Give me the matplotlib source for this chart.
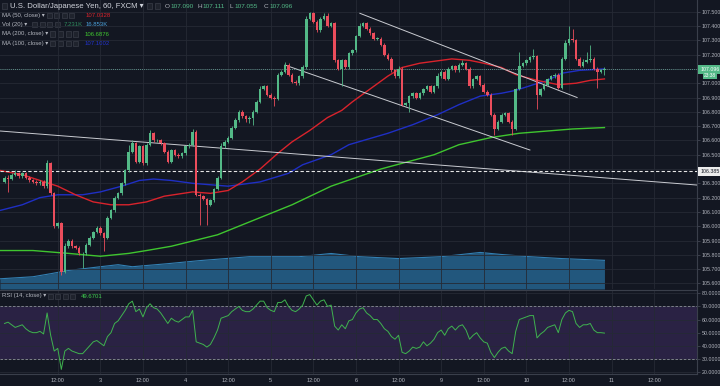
import matplotlib
matplotlib.use("Agg")
import matplotlib.pyplot as plt
from matplotlib.patches import Rectangle
import numpy as np

plt.rcParams['font.family'] = ['Liberation Sans', 'DejaVu Sans']

# hourly USDJPY candles, bar 0 = day 2, 20:00
first_open = 106.31
closes = [
    106.34, 106.33, 106.36, 106.37, 106.35, 106.37, 106.34, 106.32, 106.31, 106.30,
    106.31, 106.28, 106.44, 106.23, 106.00, 106.02, 105.68, 105.86, 105.90, 105.86,
    105.85, 105.81, 105.81, 105.87, 105.92, 105.96, 105.99, 105.95, 105.92, 106.06,
    106.11, 106.20, 106.23, 106.30, 106.39, 106.52, 106.58, 106.45, 106.56, 106.44,
    106.57, 106.65, 106.60, 106.60, 106.58, 106.52, 106.45, 106.53, 106.50, 106.49,
    106.51, 106.56, 106.57, 106.66, 106.22, 106.21, 106.19, 106.15, 106.18, 106.26,
    106.34, 106.56, 106.59, 106.62, 106.69, 106.74, 106.80, 106.77, 106.75, 106.76,
    106.80, 106.87, 106.96, 106.98, 106.92, 106.90, 106.89, 107.06, 107.08, 107.13,
    107.06, 107.01, 107.00, 107.05, 107.11, 107.45, 107.49, 107.43, 107.37, 107.45,
    107.47, 107.40, 107.42, 107.16, 107.10, 107.16, 107.11, 107.21, 107.23, 107.33,
    107.40, 107.42, 107.38, 107.35, 107.31, 107.31, 107.27, 107.20, 107.17, 107.09,
    107.05, 107.10, 106.85, 106.86, 106.91, 106.93, 106.90, 106.93, 106.96, 106.98,
    106.94, 106.98, 107.05, 107.08, 107.03, 107.10, 107.12, 107.09, 107.13, 107.14,
    107.10, 106.98, 107.03, 107.05, 106.99, 106.94, 106.92, 106.78, 106.68, 106.73,
    106.78, 106.79, 106.73, 106.68, 106.96, 107.12, 107.14, 107.16, 107.18, 107.19,
    106.92, 106.96, 106.99, 107.03, 107.05, 107.06, 106.97, 107.17, 107.28, 107.31,
    107.30, 107.17, 107.12, 107.15, 107.16, 107.17, 107.10, 107.08, 107.09, 107.096,
]
# wick lengths beyond the body, in 0.01 yen
upper_wick = [
    1, 2, 1, 2, 1, 1, 1, 1, 1, 1,
    1, 1, 2, 1, 1, 1, 1, 2, 1, 1,
    1, 1, 1, 1, 1, 1, 1, 1, 1, 1,
    1, 1, 1, 1, 1, 5, 2, 1, 1, 1,
    1, 2, 1, 1, 1, 1, 1, 1, 1, 1,
    1, 1, 1, 2, 1, 1, 1, 1, 1, 1,
    1, 2, 1, 1, 1, 2, 1, 1, 1, 1,
    1, 1, 2, 1, 1, 1, 1, 1, 1, 2,
    1, 1, 1, 1, 2, 2, 1, 1, 1, 1,
    2, 2, 1, 1, 1, 1, 1, 1, 1, 1,
    2, 1, 1, 1, 1, 1, 1, 1, 1, 1,
    1, 2, 1, 1, 1, 1, 1, 1, 1, 1,
    1, 1, 2, 1, 1, 1, 1, 1, 1, 2,
    1, 1, 1, 1, 1, 1, 1, 1, 1, 1,
    1, 1, 1, 1, 1, 10, 1, 1, 1, 5,
    1, 1, 1, 1, 1, 1, 1, 1, 2, 9,
    7, 1, 1, 2, 6, 10, 1, 1, 1, 1.5,
]
lower_wick = [
    1, 9, 1, 1, 1, 1, 1, 1, 1, 1,
    1, 1, 1, 1, 1, 1, 2, 1, 1, 1,
    1, 1, 10, 1, 1, 1, 1, 1, 9, 1,
    1, 1, 1, 1, 1, 1, 1, 1, 1, 1,
    1, 1, 1, 1, 1, 1, 1, 1, 1, 1,
    1, 1, 1, 1, 1, 20, 1, 14, 1, 1,
    1, 1, 1, 1, 1, 1, 1, 1, 2, 3,
    5, 1, 1, 1, 1, 1, 5, 1, 1, 1,
    1, 1, 1, 1, 1, 1, 1, 1, 1, 1,
    1, 1, 1, 1, 1, 12, 1, 1, 1, 1,
    1, 1, 1, 1, 1, 1, 1, 1, 1, 1,
    1, 1, 1, 1, 6, 1, 1, 1, 1, 1,
    1, 1, 1, 1, 1, 1, 1, 1, 1, 1,
    1, 1, 1, 1, 1, 1, 1, 1, 4, 1,
    1, 1, 1, 4, 1, 1, 1, 1, 1, 1,
    10, 1, 1, 1, 1, 1, 1, 1, 1, 1,
    1, 1, 1, 1, 1, 1, 1, 11, 1, 3.5,
]
rsi = [
    57, 58, 56, 54, 55, 56, 53, 51, 50, 50,
    51, 49, 65, 48, 36, 38, 22, 36, 38, 36,
    35, 34, 34, 37, 40, 43, 44, 42, 40, 47,
    50, 57, 59, 63, 67, 72, 74, 66, 68, 62,
    69, 72, 69, 68, 65, 61, 57, 61, 59, 58,
    60, 62, 62, 67, 43, 42, 41, 39, 41, 46,
    52, 61, 62, 63, 66, 68, 70, 67, 66, 66,
    68, 71, 74, 74, 69, 67, 66, 73, 73, 75,
    70, 67, 66, 68, 71, 78, 79, 75, 71, 74,
    75, 70, 71, 55, 52, 56, 53, 59, 60, 65,
    68, 69, 65, 63, 60, 60, 57, 53, 51, 47,
    45, 48, 35, 34, 36, 39, 38, 39, 43, 40,
    42, 45, 50, 52, 48, 53, 55, 52, 55, 56,
    52, 45, 48, 50, 46, 43, 42, 35, 31, 35,
    38, 39, 36, 34, 51, 60, 61, 62, 63, 63,
    46, 49, 51, 54, 55, 56, 50, 60, 65, 67,
    66, 57, 54, 56, 56, 57, 52, 50, 50, 49.67,
]

# moving averages (bar index, value)
ma50_at = [-1.3, 5, 10, 15, 20, 25, 30, 35, 40, 45, 53, 58, 63, 67, 72, 77, 81, 86, 91, 95,
           98, 103, 108, 112, 117, 126, 131, 135, 140, 144, 150, 156, 161, 165, 169]
ma50 = [106.39, 106.36, 106.32, 106.28, 106.22, 106.17, 106.15, 106.15, 106.17, 106.21,
        106.24, 106.23, 106.25, 106.31, 106.40, 106.51, 106.59, 106.67, 106.76, 106.81,
        106.87, 106.96, 107.05, 107.11, 107.14, 107.17, 107.16, 107.14, 107.11, 107.06,
        107.02, 106.99, 107.00, 107.02, 107.03]
ma100_at = [-1.3, 5, 10, 15, 22, 27, 33, 38, 42, 47, 53, 58, 63, 72, 80, 84, 92, 97, 108,
            115, 122, 128, 134, 140, 144, 149, 153, 157, 162, 169]
ma100 = [106.11, 106.15, 106.20, 106.22, 106.22, 106.24, 106.28, 106.32, 106.33, 106.32,
         106.30, 106.29, 106.28, 106.31, 106.37, 106.43, 106.50, 106.57, 106.65, 106.71,
         106.78, 106.85, 106.91, 106.93, 106.95, 106.99, 107.02, 107.07, 107.09, 107.10]
ma200_at = [-1.3, 8, 18, 27, 35, 40, 47, 60, 72, 81, 92, 106, 121, 128, 137, 145, 160, 169]
ma200 = [105.83, 105.83, 105.81, 105.79, 105.81, 105.83, 105.86, 105.94, 106.06, 106.15,
         106.28, 106.40, 106.50, 106.57, 106.62, 106.65, 106.68, 106.69]
# volume MA(20), thousands
vol_at = [-1.3, 8, 13, 18, 27, 32, 36, 46, 55, 69, 83, 92, 100, 111, 123, 134, 140, 148, 157, 169]
vol_ma = [6.0, 7.2, 9.0, 10.9, 13.1, 14.3, 13.1, 14.9, 16.7, 19.0, 19.0, 20.9, 19.0, 17.9,
          19.0, 21.5, 20.3, 19.0, 17.9, 16.85]

# drawn trend lines: (bar, price) pairs
trend_lines = [[(-1.3, 106.666), (195.1, 106.288)],
               [(79.0, 107.127), (148.0, 106.533)],
               [(100.1, 107.489), (161.3, 106.900)]]
support_level = 106.385
last_price = 107.096

tick_at = [15, 27, 39, 51, 63, 75, 87, 99, 111, 123, 135, 147, 159, 171, 183]
tick_lbl = ['12:00', '3', '12:00', '4', '12:00', '5', '12:00', '6', '12:00', '9',
            '12:00', '10', '12:00', '11', '12:00']
price_ticks = [105.6, 105.7, 105.8, 105.9, 106.0, 106.1, 106.2, 106.3, 106.4, 106.5,
               106.6, 106.7, 106.8, 106.9, 107.0, 107.1, 107.2, 107.3, 107.4, 107.5]
rsi_ticks = [20, 30, 40, 50, 60, 70, 80]

bg = '#131722'
grid_c = '#252a35'
txt_c = '#b2b5be'
up_c = '#53b987'
dn_c = '#eb4d5c'

fig = plt.figure(figsize=(7.2, 3.86), dpi=100, facecolor=bg)
W, H = 720.0, 386.0
xlim = (-1.27, 195.07)

ax = fig.add_axes([0, 1 - 289 / H, 697 / W, 289 / H])
vax = ax.twinx()
ax.set_zorder(2)
vax.set_zorder(1)
ax.patch.set_visible(False)
vax.set_axis_off()
vax.fill_between(vol_at, 0, vol_ma, color='#22577d', lw=0)
vax.plot(vol_at, vol_ma, color='#3380b3', lw=0.8)
vax.set_ylim(0, 170)
vax.set_xlim(*xlim)

idx = np.arange(len(closes))
c = np.array(closes)
o = np.r_[first_open, c[:-1]]
body_lo = np.minimum(o, c)
body_hi = np.maximum(o, c)
hi = body_hi + np.array(upper_wick) / 100
lo = body_lo - np.array(lower_wick) / 100
cols = np.where(c >= o, up_c, dn_c)

ax.set_xlim(*xlim)
ax.set_ylim(105.561, 107.582)
ax.set_xticks(tick_at)
ax.set_yticks(price_ticks)
ax.grid(color=grid_c, lw=0.6)
ax.set_axisbelow(True)

ax.plot(ma200_at, ma200, color='#3fc52f', lw=1.0, zorder=3)
ax.plot(ma100_at, ma100, color='#1f2fc4', lw=1.0, zorder=3)
ax.plot(ma50_at, ma50, color='#d9232c', lw=1.0, zorder=3)
for (x0, y0), (x1, y1) in trend_lines:
    ax.plot([x0, x1], [y0, y1], color='#c9cbd1', lw=0.7, zorder=4)
ax.axhline(support_level, color='#e6e6e6', lw=0.8, ls=(0, (3, 2)), zorder=4)
ax.axhline(last_price, color='#6fb0a4', lw=0.6, ls=(0, (1, 1.5)), zorder=4)

ax.vlines(idx, lo, hi, colors=cols, lw=0.6, zorder=5)
ax.bar(idx, np.maximum(body_hi - body_lo, 0.004), bottom=body_lo, width=0.72,
       color=cols, lw=0, zorder=6)

# labels under the price/level boxes are hidden, as on the chart
hidden = (107.1, 106.4)
ax.yaxis.tick_right()
ax.set_yticklabels(['' if round(p, 1) in hidden else '%.3f' % p for p in price_ticks])
ax.tick_params(axis='y', colors='#4a4f5c', labelcolor=txt_c, labelsize=3.8,
               length=2, width=0.5, pad=1.2)
ax.tick_params(axis='x', length=0, labelbottom=False)
for s in ['top', 'left', 'bottom']:
    ax.spines[s].set_visible(False)
ax.spines['right'].set_color('#3a3f4b')

ytr = ax.get_yaxis_transform()
ax.text(1.0045, last_price, '107.096', transform=ytr, fontsize=3.8, color='white',
        va='center', ha='left', clip_on=False, zorder=10,
        bbox=dict(boxstyle='square,pad=0.35', fc=up_c, ec='none'))
ax.text(710 / 697, last_price - 0.043, '23:38', transform=ytr, fontsize=3.5,
        color='white', va='center', ha='center', clip_on=False, zorder=10,
        bbox=dict(boxstyle='square,pad=0.25', fc=up_c, ec='none'))
ax.text(1.0045, support_level, '106.385', transform=ytr, fontsize=3.8, color='#131722',
        va='center', ha='left', clip_on=False, zorder=10,
        bbox=dict(boxstyle='square,pad=0.35', fc='#ececec', ec='none'))

# RSI panel
ax2 = fig.add_axes([0, 1 - 374 / H, 697 / W, 84 / H], facecolor=bg)
ax2.set_xlim(*xlim)
ax2.set_ylim(18.5, 82.5)
ax2.axhspan(30, 70, color='#2a2244', lw=0, zorder=0)
ax2.set_xticks(tick_at)
ax2.set_xticklabels(tick_lbl)
ax2.set_yticks(rsi_ticks)
ax2.set_yticklabels(['%.4f' % v for v in rsi_ticks])
ax2.grid(color=grid_c, lw=0.6)
ax2.set_axisbelow(True)
ax2.axhline(70, color='#8d909a', lw=0.6, ls=(0, (3, 2)))
ax2.axhline(30, color='#8d909a', lw=0.6, ls=(0, (3, 2)))
ax2.plot(idx, rsi, color='#3fb34f', lw=0.7)
ax2.yaxis.tick_right()
ax2.tick_params(axis='y', colors='#4a4f5c', labelcolor=txt_c, labelsize=3.8,
                length=2, width=0.5, pad=1.2)
ax2.tick_params(axis='x', colors='#4a4f5c', labelcolor=txt_c, labelsize=4.0,
                length=0, pad=3)
ax2.spines['left'].set_visible(False)
for s in ['top', 'right', 'bottom']:
    ax2.spines[s].set_color('#3a3f4b')

# legend block
def ftext(x, y, s, color, size=4.3, **kw):
    fig.text(x / W, 1 - y / H, s, color=color, fontsize=size, va='center', ha='left', **kw)

def boxes(xs, y):
    for x in xs:
        fig.patches.append(Rectangle((x / W, 1 - (y + 2.5) / H), 5 / W, 5 / H,
                                     transform=fig.transFigure, fc='#1f232d',
                                     ec='#3a3e49', lw=0.5))

boxes([2], 6)
ftext(10, 6, 'U.S. Dollar/Japanese Yen, 60, FXCM \u25be', '#d1d4dc', size=5.6)
boxes([147, 155], 6)
for x, k, v in [(165, 'O', '107.090'), (197, 'H', '107.111'),
                (229, 'L', '107.055'), (264, 'C', '107.096')]:
    ftext(x, 6, k, txt_c, size=4.6)
    ftext(x + 5.5, 6, v, up_c, size=4.6)

ftext(2, 15.5, 'MA (50, close) \u25be', txt_c)
boxes([47, 54, 62, 69], 15.5)
ftext(86, 15.5, '107.0328', '#d9232c')
ftext(2, 24.5, 'Vol (20) \u25be', txt_c)
boxes([32, 40, 47, 55], 24.5)
ftext(64, 24.5, '7.231K', '#2f8a5e')
ftext(86, 24.5, '16.853K', '#4a9fd8')
ftext(2, 34, 'MA (200, close) \u25be', txt_c)
boxes([50, 58, 66, 73], 34)
ftext(85, 34, '106.6876', '#3fc52f')
ftext(2, 43.3, 'MA (100, close) \u25be', txt_c)
boxes([50, 58, 66, 73], 43.3)
ftext(85, 43.3, '107.1002', '#2233cc')

ftext(2, 296, 'RSI (14, close) \u25be', txt_c)
boxes([48, 55, 63, 70], 296)
ftext(81, 296, '49.6701', '#3fd14f')

fig.savefig('out.png', dpi=100, facecolor=bg)
